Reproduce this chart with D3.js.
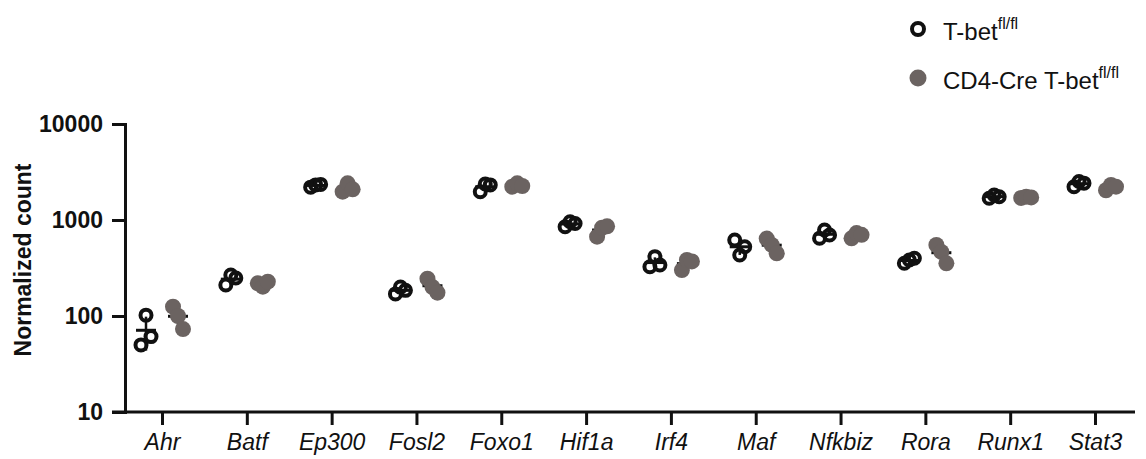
<!DOCTYPE html>
<html>
<head>
<meta charset="utf-8">
<script src="https://cdn.jsdelivr.net/npm/d3@7"></script>
<style>
  body { margin: 0; background: #fff; }
  svg { font-family: "Liberation Sans", Arial, sans-serif; }
</style>
</head>
<body>
<div id="chart"></div>
<script>
// Genes on the x axis
var genes = ["Ahr", "Batf", "Ep300", "Fosl2", "Foxo1", "Hif1a", "Irf4", "Maf", "Nfkbiz", "Rora", "Runx1", "Stat3"];

// Normalized counts, 3 mice per gene
var tbetFlox = [
  [50, 102, 61], [210, 267, 249], [2200, 2320, 2350], [170, 200, 185],
  [1970, 2370, 2320], [850, 960, 920], [326, 415, 340], [619, 432, 527],
  [645, 787, 698], [354, 383, 399], [1683, 1822, 1749], [2222, 2520, 2420]
];
var cd4Cre = [
  [125, 100, 73], [219, 202, 228], [1972, 2412, 2089], [245, 200, 175],
  [2222, 2412, 2260], [670, 830, 860], [301, 383, 370], [640, 550, 450],
  [645, 730, 700], [550, 465, 354], [1700, 1750, 1720], [2040, 2316, 2222]
];

var yTicks = [10, 100, 1000, 10000];

var width = 1146;
var height = 459;

var svg = d3.select("#chart")
  .append("svg")
  .attr("width", width)
  .attr("height", height);

// Scales
var x = d3.scalePoint()
  .domain(genes)
  .range([162, 1095]);

var y = d3.scaleLog()
  .domain([10, 10000])
  .range([412, 124]);

// Axis y
var yAxis = svg.append("g")
  .attr("transform", "translate(125,0)")
  .call(d3.axisLeft(y).tickValues(yTicks).tickFormat(d3.format("d")).tickSize(13).tickPadding(9));
yAxis.select(".domain").attr("stroke", "#111").attr("stroke-width", 3);
yAxis.selectAll(".tick line").attr("stroke", "#111").attr("stroke-width", 3);
yAxis.selectAll("text")
  .attr("font-size", 23)
  .attr("font-weight", "bold")
  .attr("fill", "#111");

// Axis x (line runs from the 10 tick to the right end)
var xAxis = svg.append("g")
  .attr("transform", "translate(0,412)")
  .call(d3.axisBottom(x).tickSize(13).tickPadding(9).tickSizeOuter(0));
xAxis.select(".domain").remove();
xAxis.append("line")
  .attr("x1", 112).attr("x2", 1135)
  .attr("stroke", "#111").attr("stroke-width", 3);
xAxis.selectAll(".tick line").attr("stroke", "#111").attr("stroke-width", 3);
xAxis.selectAll("text")
  .attr("font-size", 23)
  .attr("font-style", "italic")
  .attr("fill", "#111");

// Y title
svg.append("text")
  .attr("transform", "translate(31,260) rotate(-90)")
  .attr("text-anchor", "middle")
  .attr("font-size", 23)
  .attr("font-weight", "bold")
  .attr("fill", "#111")
  .text("Normalized count");

// jitter pattern inside a sub-column
var jitter = [-5, 0, 5];
var groups = [
  { data: tbetFlox, offset: -16, open: true },
  { data: cd4Cre, offset: 16, open: false }
];

groups.forEach(function (g) {
  var layer = svg.append("g");
  g.data.forEach(function (vals, i) {
    var cx = x(genes[i]) + g.offset;
    var m = d3.mean(vals);
    var sd = d3.deviation(vals);

    // mean and SD bars behind the dots
    layer.append("line")
      .attr("x1", cx).attr("x2", cx)
      .attr("y1", y(m + sd)).attr("y2", y(Math.max(m - sd, 10)))
      .attr("stroke", "#111").attr("stroke-width", 2.5);
    layer.append("line")
      .attr("x1", cx - 10).attr("x2", cx + 10)
      .attr("y1", y(m)).attr("y2", y(m))
      .attr("stroke", "#111").attr("stroke-width", 3);

    layer.selectAll(null)
      .data(vals)
      .enter()
      .append("circle")
      .attr("cx", (d, j) => cx + jitter[j])
      .attr("cy", (d) => y(d))
      .attr("r", g.open ? 5.5 : 8)
      .attr("fill", g.open ? "none" : "#6b6361")
      .attr("stroke", g.open ? "#111" : "none")
      .attr("stroke-width", 4);
  });
});

// Legend
var legend = svg.append("g");
legend.append("circle")
  .attr("cx", 918).attr("cy", 29).attr("r", 6)
  .attr("fill", "none").attr("stroke", "#111").attr("stroke-width", 4);
legend.append("circle")
  .attr("cx", 918).attr("cy", 78).attr("r", 8.5)
  .attr("fill", "#6b6361");

var l1 = legend.append("text")
  .attr("x", 943).attr("y", 40)
  .attr("font-size", 24)
  .attr("fill", "#111");
l1.append("tspan").text("T-bet");
l1.append("tspan").attr("font-size", 16).attr("dy", -11).text("fl/fl");

var l2 = legend.append("text")
  .attr("x", 943).attr("y", 89)
  .attr("font-size", 24)
  .attr("fill", "#111");
l2.append("tspan").text("CD4-Cre T-bet");
l2.append("tspan").attr("font-size", 16).attr("dy", -11).text("fl/fl");
</script>
</body>
</html>
